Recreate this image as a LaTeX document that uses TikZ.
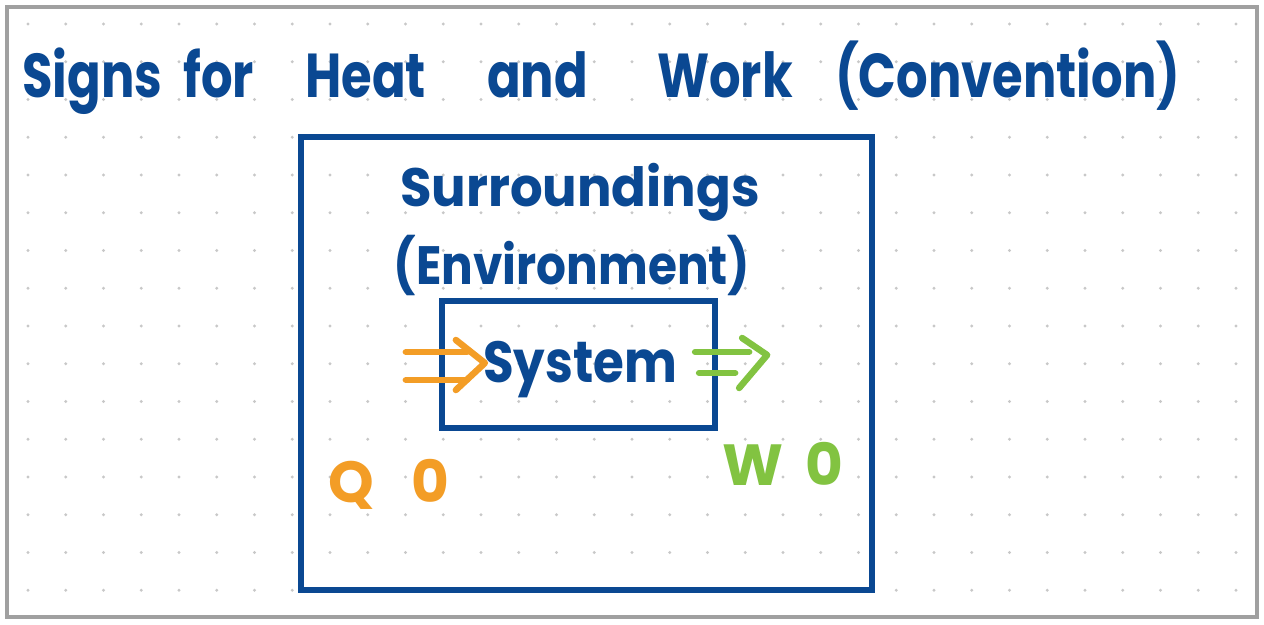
\documentclass[tikz,border=0pt]{standalone}
\usepackage{fontspec}
\setmainfont{Poppins}
\usepackage{graphicx}
\usetikzlibrary{arrows.meta,positioning,calc}
\definecolor{inkblue}{RGB}{10,72,146}
\definecolor{inkorange}{RGB}{243,157,38}
\definecolor{inkgreen}{RGB}{130,195,65}
\definecolor{dotcol}{RGB}{200,200,200}
\definecolor{framecol}{RGB}{160,160,160}

\begin{document}
\begin{tikzpicture}[x=1pt,y=-1pt,
   hand/.style={inner sep=0pt,text=inkblue,font=\bfseries\fontsize{#1}{#1}\selectfont},
   box/.style={draw=inkblue,line width=5.5pt,inner sep=0pt},
   sign/.style={inner sep=0pt,font=\bfseries\fontsize{58}{58}\selectfont},
   arr/.style={line width=6.5pt,line cap=round,line join=round}]
  \useasboundingbox (0,0) rectangle (1264,624);
  \fill[white] (0,0) rectangle (1264,624);
  % dotted paper
  \foreach \i in {0,...,32}{
    \foreach \j in {0,...,15}{
      \fill[dotcol] (28+37.75*\i,24+37.75*\j) circle (1.6);
    }}
  \draw[framecol,line width=4pt] (7,7) rectangle (1257,617);
  % title, one word at a time
  \foreach \w/\x [count=\k] in {Signs/22,for/183,Heat/305,and/487,Work/657,(Convention)/835}{
    \node[hand=62,anchor=base west] (title\k) at (\x,97) {\scalebox{0.8}[1]{\w}};
  }
  % surroundings and system
  \node[box,minimum width=571pt,minimum height=453pt] (env) at (586.5,363.5) {};
  \node[box,minimum width=273pt,minimum height=127pt] (sysbox) at (578.5,364.5) {};
  \node[hand=54] (surr) at (580,192) {\scalebox{0.95}[1]{Surroundings}};
  \node[hand=54] (envtxt) at (572,265) {\scalebox{0.87}[1]{(Environment)}};
  \node[hand=58] (sys) at (580,370) {\scalebox{0.86}[1]{System}};
  % heat in
  \coordinate (qtip) at ($(sys.west)+(2,-7)$);
  \draw[arr,inkorange] ($(qtip)+(-79,-11)$) -- ($(qtip)+(-18,-11)$)
                       ($(qtip)+(-79,17)$) -- ($(qtip)+(-18,17)$);
  \draw[arr,inkorange] ($(qtip)+(-29,-23)$) -- (qtip) -- ($(qtip)+(-29,27)$);
  % work out
  \coordinate (wtip) at ($(sys.east)+(90,-15)$);
  \draw[arr,inkgreen] ($(sys.east)+(18,-18)$) -- ($(wtip)+(-18,-3)$)
                      ($(sys.east)+(22,3)$) -- ($(wtip)+(-32,18)$);
  \draw[arr,inkgreen] ($(wtip)+(-25,-17)$) -- (wtip) -- ($(wtip)+(-28,33)$);
  \node[sign,text=inkorange,anchor=west] (q) at (328,484) {Q\hspace{38pt}0};
  \node[sign,text=inkgreen,anchor=west] (w) at (722,464) {W\hspace{22pt}0};
\end{tikzpicture}
\end{document}
